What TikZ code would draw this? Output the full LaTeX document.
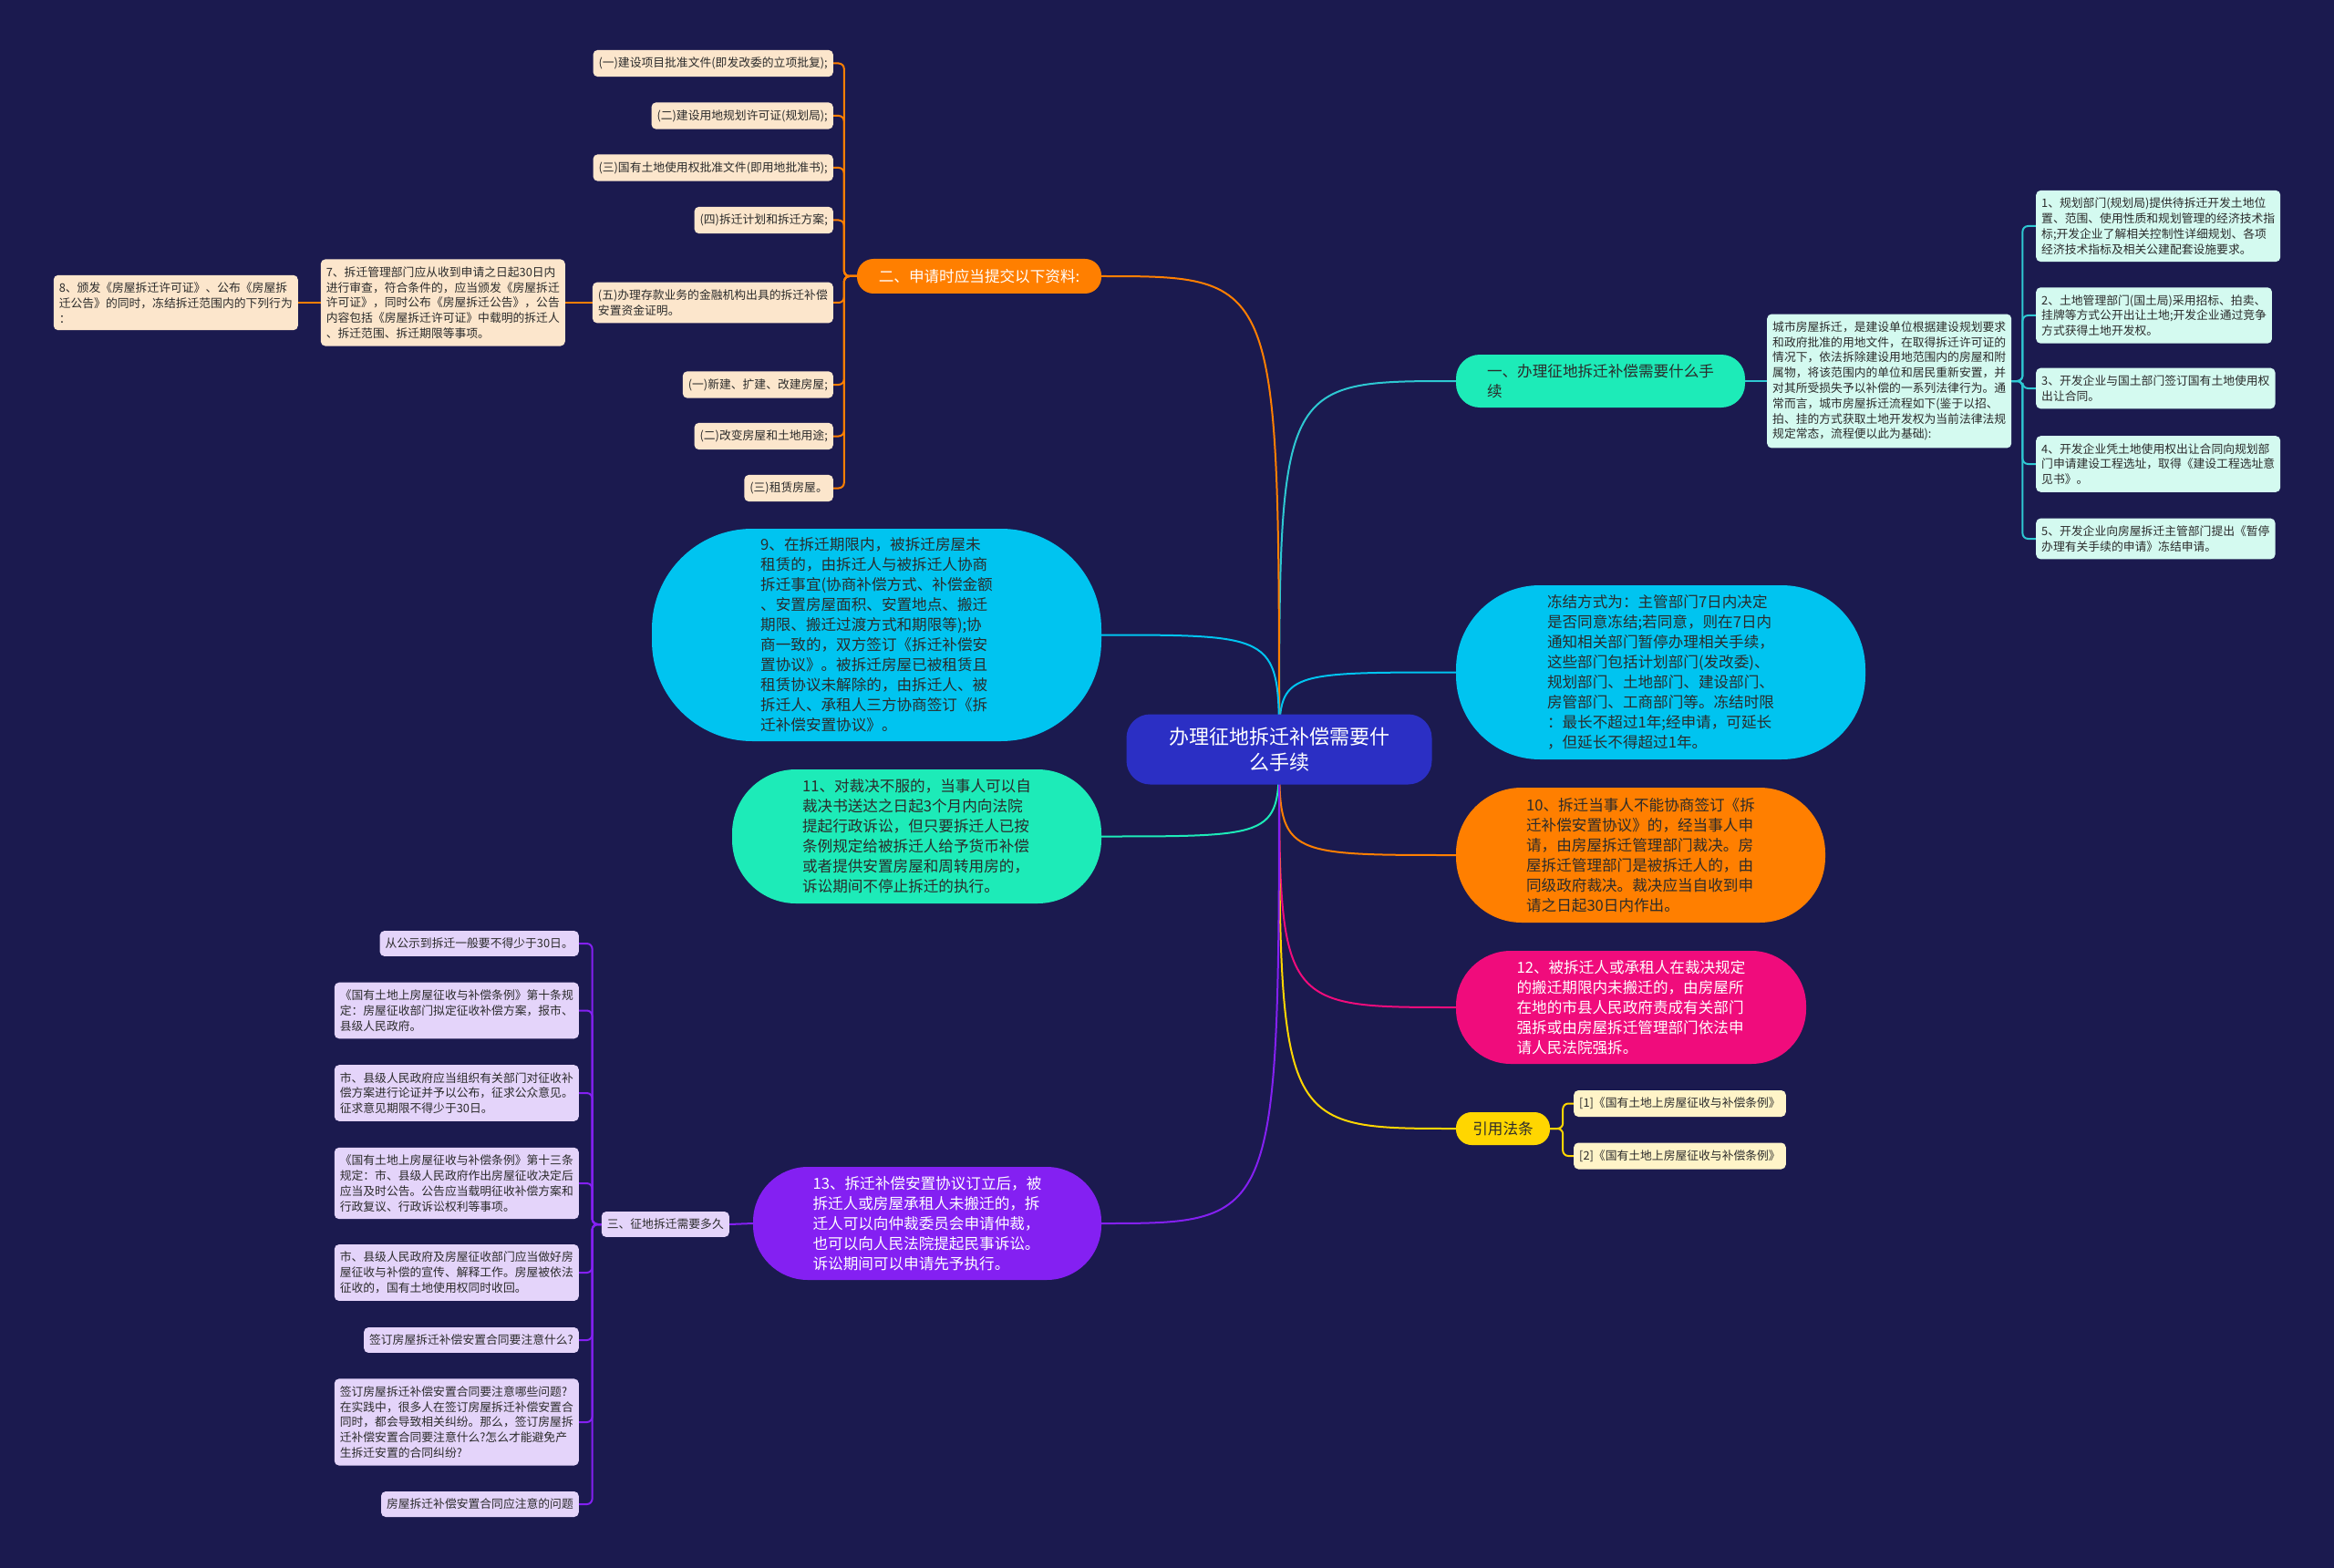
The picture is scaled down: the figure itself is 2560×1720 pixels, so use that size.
\documentclass[tikz,border=0pt]{standalone}
\usepackage{fontspec}
\setmainfont{Noto Sans CJK SC}
\pgfdeclarelayer{bg}
\pgfdeclarelayer{edges}
\pgfsetlayers{bg,edges,main}
\definecolor{bgc}{HTML}{1B1A4F}
\definecolor{cenc}{HTML}{2B2FC4}
\definecolor{aqua}{HTML}{1DEBB8}
\definecolor{skyc}{HTML}{00C4F0}
\definecolor{orgc}{HTML}{FF7F00}
\definecolor{magc}{HTML}{F00C7C}
\definecolor{vioc}{HTML}{8420F2}
\definecolor{yelc}{HTML}{FFD600}
\definecolor{peach}{HTML}{FCE6CC}
\definecolor{lav}{HTML}{E4D4FA}
\definecolor{lmint}{HTML}{D4FAF0}
\definecolor{lyel}{HTML}{FFF4C8}
\definecolor{tealn}{HTML}{2EC8D2}
\definecolor{txt}{HTML}{2B2B2B}
\tikzset{
  sm/.style={font=\fontsize{12.8}{16.8}\selectfont, align=left, inner xsep=6pt, inner ysep=8pt, text=txt, rounded corners=5pt},
  orit/.style={sm, fill=peach},
  puit/.style={sm, fill=lav},
  mtit/.style={sm, fill=lmint},
  ylit/.style={sm, fill=lyel},
  pill/.style={font=\fontsize{16.6}{22}\selectfont, align=left, inner sep=0pt, text=txt},
  ln/.style={line width=2pt},
  brk/.style={line width=2pt, rounded corners=6pt},
}
\begin{document}
\begin{tikzpicture}[x=1pt,y=-1pt]
\begin{pgfonlayer}{bg}
\fill[bgc] (0,0) rectangle (2560,1720);
\end{pgfonlayer}
\useasboundingbox (0,0) rectangle (2560,1720);

% central
\node[fill=cenc, text=white, rounded corners=26pt, minimum width=335pt, minimum height=77pt, align=center, font=\fontsize{22}{28}\selectfont, inner sep=0pt] (c) at (1403,822) {办理征地拆迁补偿需要什\\么手续};

% right side
\node[pill, fill=aqua, rounded corners=26pt, minimum width=317pt, minimum height=58pt] (yi) at (1755.5,418) {一、办理征地拆迁补偿需要什么手\\续};
\node[mtit, anchor=west] (big) at (1938,418) {城市房屋拆迁，是建设单位根据建设规划要求\\和政府批准的用地文件，在取得拆迁许可证的\\情况下，依法拆除建设用地范围内的房屋和附\\属物，将该范围内的单位和居民重新安置，并\\对其所受损失予以补偿的一系列法律行为。通\\常而言，城市房屋拆迁流程如下(鉴于以招、\\拍、挂的方式获取土地开发权为当前法律法规\\规定常态，流程便以此为基础):};
\node[mtit, anchor=west] (r1) at (2233,248) {1、规划部门(规划局)提供待拆迁开发土地位\\置、范围、使用性质和规划管理的经济技术指\\标;开发企业了解相关控制性详细规划、各项\\经济技术指标及相关公建配套设施要求。};
\node[mtit, anchor=west] (r2) at (2233,346) {2、土地管理部门(国土局)采用招标、拍卖、\\挂牌等方式公开出让土地;开发企业通过竞争\\方式获得土地开发权。};
\node[mtit, anchor=west] (r3) at (2233,426) {3、开发企业与国土部门签订国有土地使用权\\出让合同。};
\node[mtit, anchor=west] (r4) at (2233,509) {4、开发企业凭土地使用权出让合同向规划部\\门申请建设工程选址，取得《建设工程选址意\\见书》。};
\node[mtit, anchor=west] (r5) at (2233,591) {5、开发企业向房屋拆迁主管部门提出《暂停\\办理有关手续的申请》冻结申请。};

\node[pill, fill=skyc, rounded corners=92pt, minimum width=449pt, minimum height=191pt] (dj) at (1821.5,737.5) {冻结方式为：主管部门7日内决定\\是否同意冻结;若同意，则在7日内\\通知相关部门暂停办理相关手续，\\这些部门包括计划部门(发改委)、\\规划部门、土地部门、建设部门、\\房管部门、工商部门等。冻结时限\\：最长不超过1年;经申请，可延长\\，但延长不得超过1年。};
\node[pill, fill=orgc, rounded corners=72pt, minimum width=405pt, minimum height=148pt] (n10) at (1799.5,938) {10、拆迁当事人不能协商签订《拆\\迁补偿安置协议》的，经当事人申\\请，由房屋拆迁管理部门裁决。房\\屋拆迁管理部门是被拆迁人的，由\\同级政府裁决。裁决应当自收到申\\请之日起30日内作出。};
\node[pill, fill=magc, text=white, rounded corners=60pt, minimum width=384pt, minimum height=124pt] (n12) at (1789,1105) {12、被拆迁人或承租人在裁决规定\\的搬迁期限内未搬迁的，由房屋所\\在地的市县人民政府责成有关部门\\强拆或由房屋拆迁管理部门依法申\\请人民法院强拆。};
\node[pill, fill=yelc, rounded corners=17pt, minimum width=103pt, minimum height=36pt] (yl) at (1648.5,1238) {引用法条};
\node[ylit, anchor=west] (y1) at (1726,1210.5) {[1]《国有土地上房屋征收与补偿条例》};
\node[ylit, anchor=west] (y2) at (1726,1268) {[2]《国有土地上房屋征收与补偿条例》};

% left side
\node[pill, fill=orgc, text=white, rounded corners=18pt, minimum width=268pt, minimum height=38pt] (er) at (1074,303) {二、申请时应当提交以下资料:};
\node[orit, anchor=east] (o1) at (914,69.5) {(一)建设项目批准文件(即发改委的立项批复);};
\node[orit, anchor=east] (o2) at (914,127) {(二)建设用地规划许可证(规划局);};
\node[orit, anchor=east] (o3) at (914,184) {(三)国有土地使用权批准文件(即用地批准书);};
\node[orit, anchor=east] (o4) at (914,241.5) {(四)拆迁计划和拆迁方案;};
\node[orit, anchor=east] (o5) at (914,332) {(五)办理存款业务的金融机构出具的拆迁补偿\\安置资金证明。};
\node[orit, anchor=east] (o6) at (914,422) {(一)新建、扩建、改建房屋;};
\node[orit, anchor=east] (o7) at (914,478.5) {(二)改变房屋和土地用途;};
\node[orit, anchor=east] (o8) at (914,535.5) {(三)租赁房屋。};
\node[orit, anchor=east] (n7) at (620,332) {7、拆迁管理部门应从收到申请之日起30日内\\进行审查，符合条件的，应当颁发《房屋拆迁\\许可证》，同时公布《房屋拆迁公告》，公告\\内容包括《房屋拆迁许可证》中载明的拆迁人\\、拆迁范围、拆迁期限等事项。};
\node[orit, anchor=east] (n8) at (327,332) {8、颁发《房屋拆迁许可证》、公布《房屋拆\\迁公告》的同时，冻结拆迁范围内的下列行为\\：};

\node[pill, fill=skyc, rounded corners=110pt, minimum width=493pt, minimum height=233pt] (n9) at (961.5,696.5) {9、在拆迁期限内，被拆迁房屋未\\租赁的，由拆迁人与被拆迁人协商\\拆迁事宜(协商补偿方式、补偿金额\\、安置房屋面积、安置地点、搬迁\\期限、搬迁过渡方式和期限等);协\\商一致的，双方签订《拆迁补偿安\\置协议》。被拆迁房屋已被租赁且\\租赁协议未解除的，由拆迁人、被\\拆迁人、承租人三方协商签订《拆\\迁补偿安置协议》。};
\node[pill, fill=aqua, rounded corners=70pt, minimum width=405pt, minimum height=147pt] (n11) at (1005.5,917.5) {11、对裁决不服的，当事人可以自\\裁决书送达之日起3个月内向法院\\提起行政诉讼，但只要拆迁人已按\\条例规定给被拆迁人给予货币补偿\\或者提供安置房屋和周转用房的，\\诉讼期间不停止拆迁的执行。};
\node[pill, fill=vioc, text=white, rounded corners=60pt, minimum width=382pt, minimum height=124pt] (n13) at (1017,1342) {13、拆迁补偿安置协议订立后，被\\拆迁人或房屋承租人未搬迁的，拆\\迁人可以向仲裁委员会申请仲裁，\\也可以向人民法院提起民事诉讼。\\诉讼期间可以申请先予执行。};
\node[puit, anchor=east] (san) at (800,1343) {三、征地拆迁需要多久};
\node[puit, anchor=east] (p1) at (635,1035) {从公示到拆迁一般要不得少于30日。};
\node[puit, anchor=east] (p2) at (635,1108.5) {《国有土地上房屋征收与补偿条例》第十条规\\定：房屋征收部门拟定征收补偿方案，报市、\\县级人民政府。};
\node[puit, anchor=east] (p3) at (635,1199) {市、县级人民政府应当组织有关部门对征收补\\偿方案进行论证并予以公布，征求公众意见。\\征求意见期限不得少于30日。};
\node[puit, anchor=east] (p4) at (635,1298) {《国有土地上房屋征收与补偿条例》第十三条\\规定：市、县级人民政府作出房屋征收决定后\\应当及时公告。公告应当载明征收补偿方案和\\行政复议、行政诉讼权利等事项。};
\node[puit, anchor=east] (p5) at (635,1396) {市、县级人民政府及房屋征收部门应当做好房\\屋征收与补偿的宣传、解释工作。房屋被依法\\征收的，国有土地使用权同时收回。};
\node[puit, anchor=east] (p6) at (635,1470) {签订房屋拆迁补偿安置合同要注意什么?};
\node[puit, anchor=east] (p7) at (635,1560) {签订房屋拆迁补偿安置合同要注意哪些问题?\\在实践中，很多人在签订房屋拆迁补偿安置合\\同时，都会导致相关纠纷。那么，签订房屋拆\\迁补偿安置合同要注意什么?怎么才能避免产\\生拆迁安置的合同纠纷?};
\node[puit, anchor=east] (p8) at (635,1650) {房屋拆迁补偿安置合同应注意的问题};

% connectors
\begin{pgfonlayer}{edges}
\draw[ln, tealn] (c.center) .. controls (c.center |- yi.west) .. (yi.west);
\draw[ln, skyc] (c.center) .. controls (c.center |- dj.west) .. (dj.west);
\draw[ln, orgc] (c.center) .. controls (c.center |- n10.west) .. (n10.west);
\draw[ln, magc] (c.center) .. controls (c.center |- n12.west) .. (n12.west);
\draw[ln, yelc] (c.center) .. controls (c.center |- yl.west) .. (yl.west);
\draw[ln, orgc] (c.center) .. controls (c.center |- er.east) .. (er.east);
\draw[ln, skyc] (c.center) .. controls (c.center |- n9.east) .. (n9.east);
\draw[ln, aqua] (c.center) .. controls (c.center |- n11.east) .. (n11.east);
\draw[ln, vioc] (c.center) .. controls (c.center |- n13.east) .. (n13.east);
\draw[ln, tealn] (yi.east) -- (big.west);
\foreach \t in {r1,r2,r3,r4,r5} {\draw[brk, tealn] (big.east) -- ++(12,0) |- (\t.west);}
\foreach \t in {o1,o2,o3,o4,o5,o6,o7,o8} {\draw[brk, orgc] (er.west) -- ++(-14,0) |- (\t.east);}
\draw[ln, orgc] (o5.west) -- (n7.east);
\draw[ln, orgc] (n7.west) -- (n8.east);
\foreach \t in {y1,y2} {\draw[brk, yelc] (yl.east) -- ++(14,0) |- (\t.west);}
\draw[ln, vioc] (n13.west) -- (san.east);
\foreach \t in {p1,p2,p3,p4,p5,p6,p7,p8} {\draw[brk, vioc] (san.west) -- ++(-10,0) |- (\t.east);}
\end{pgfonlayer}
\end{tikzpicture}
\end{document}
